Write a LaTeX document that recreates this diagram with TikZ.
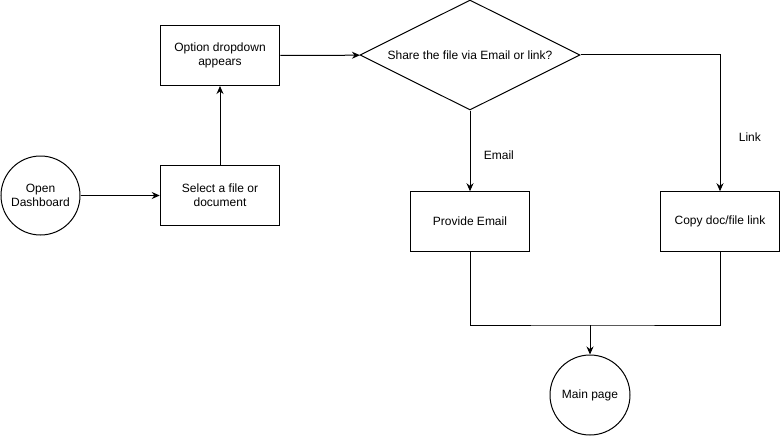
\documentclass[tikz,border=0pt]{standalone}
\usepackage{fontspec}
\setmainfont{Liberation Sans}
\usetikzlibrary{arrows.meta,shapes.geometric}

\begin{document}
\begin{tikzpicture}[x=1pt,y=-1pt,line width=1pt,
    font=\fontsize{12}{14}\selectfont,
    box/.style={draw, minimum width=119.5pt, minimum height=60pt, align=center, inner sep=0pt},
    round/.style={draw, circle, minimum size=79pt, align=center, inner sep=0pt},
    decide/.style={draw, diamond, aspect=2, minimum width=220pt, minimum height=110pt, inner sep=0pt},
    arr/.style={-{Stealth[length=8pt,width=7pt]}}]

  \useasboundingbox (0,0) rectangle (781,436);

  \node[round] (dash) at (40.5,195.5) {Open\\Dashboard};
  \node[box] (select) at (220,195.5) {Select a file or\\document};
  \node[box] (option) at (220,55.5) {Option dropdown\\appears};
  \node[decide] (share) at (470,55) {Share the file via Email or link?};

  \node[box, minimum height=59.5pt] (email) at (470,221.5) {Provide Email};
  \node[box, minimum height=59.5pt] (copy) at (720,221.5) {Copy doc/file link};

  \node[round, minimum size=80pt] (main) at (590,395) {Main page};

  \coordinate (join) at (590,325);

  \draw[arr] (dash) -- (select);
  \draw[arr] (select) -- (option);
  \draw[arr] (option) -- (share);
  \draw[arr] (share.south) -- (email) node[pos=0.55, right=10pt] {Email};
  \draw[arr] (share.east) -| (copy.north) node[pos=0.8, right=15pt] {Link};

  \draw (email.south) |- (join) -| (copy.south);
  \draw[arr] (join) -- (main);
\end{tikzpicture}
\end{document}
